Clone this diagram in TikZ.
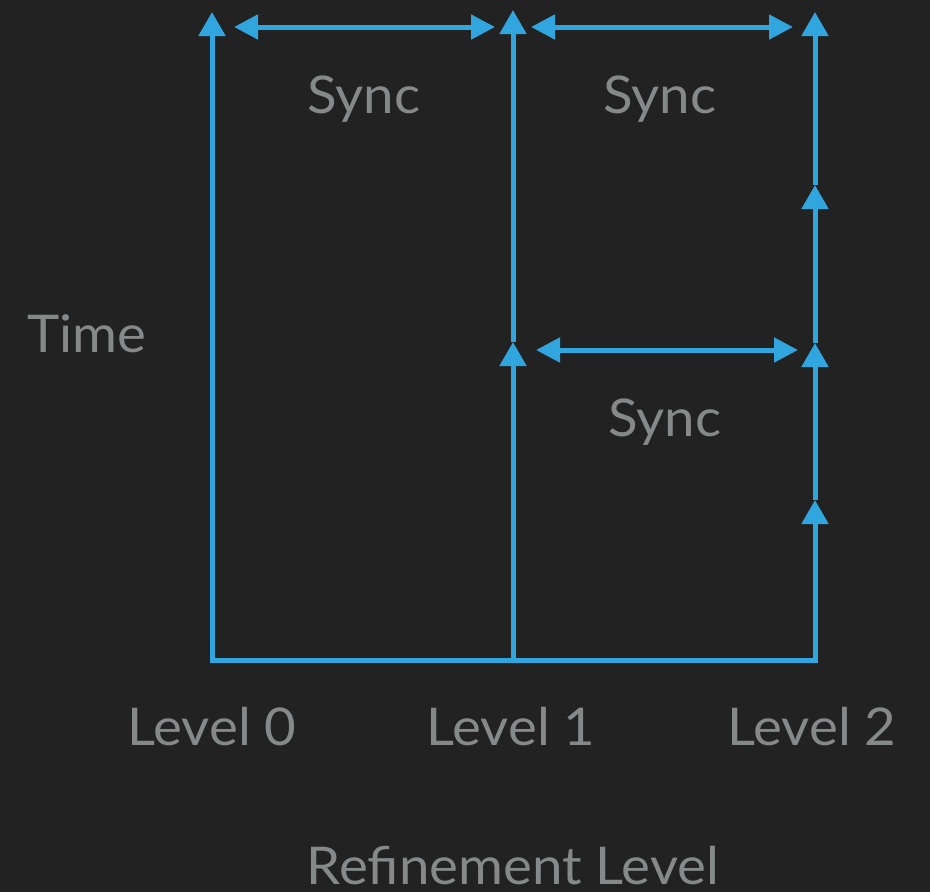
\documentclass[tikz,border=0pt]{standalone}
\usepackage{fontspec}
\setmainfont[FakeStretch=1.05]{Lato}
\usetikzlibrary{arrows.meta}
\definecolor{bgc}{HTML}{222222}
\definecolor{bluec}{HTML}{31A5DD}
\definecolor{txtc}{HTML}{86898A}
\tikzset{
  flow/.style={draw=bluec, line width=5pt, -{Triangle[length=24pt,width=26pt]}},
  both/.style={draw=bluec, line width=5pt, {Triangle[length=24pt,width=24pt]}-{Triangle[length=24pt,width=24pt]}},
  lbl/.style={text=txtc, font=\fontsize{52}{56}\selectfont, anchor=base, inner sep=0pt}
}
\begin{document}
\begin{tikzpicture}[x=1pt,y=-1pt]
\fill[bgc] (0,0) rectangle (930,892);
\useasboundingbox (0,0) rectangle (930,892);
% coordinates
\coordinate (l0t) at (212,12);
\coordinate (l0b) at (212,660);
\coordinate (l1t) at (513,10);
\coordinate (l1m) at (513,342);
\coordinate (l1b) at (513,660);
\coordinate (l2t) at (815,12);
\coordinate (l2c) at (815,185);
\coordinate (l2m) at (815,343);
\coordinate (l2a) at (815,500);
\coordinate (l2b) at (815,660);
\coordinate (s1a) at (234,27);
\coordinate (s1b) at (495,27);
\coordinate (s2a) at (531,27);
\coordinate (s2b) at (793,27);
\coordinate (s3a) at (536,350);
\coordinate (s3b) at (798,350);
% frame
\draw[flow, {Triangle[length=24pt,width=26pt]}-{Triangle[length=24pt,width=26pt]}, line join=miter] (l0t) -- (l0b) -- (l2b) -- (l2a);
\draw[flow] (l1b) -- (l1m);
\draw[flow] (l1m) -- (l1t);
\draw[flow] (l2a) -- (l2m);
\draw[flow] (l2m) -- (l2c);
\draw[flow] (l2c) -- (l2t);
% sync arrows
\draw[both] (s1a) -- (s1b);
\draw[both] (s2a) -- (s2b);
\draw[both] (s3a) -- (s3b);
% labels
\node[lbl] (sync1) at (364,113) {Sync};
\node[lbl] (sync2) at (660,113) {Sync};
\node[lbl] (sync3) at (665,436) {Sync};
\node[lbl] (time) at (87,352) {Time};
\node[lbl] (lev0) at (212,745) {Level 0};
\node[lbl] (lev1) at (511,745) {Level 1};
\node[lbl] (lev2) at (812,745) {Level 2};
\node[lbl, text depth=0pt] (refl) at (513,884) {Refinement Level};
\end{tikzpicture}
\end{document}
